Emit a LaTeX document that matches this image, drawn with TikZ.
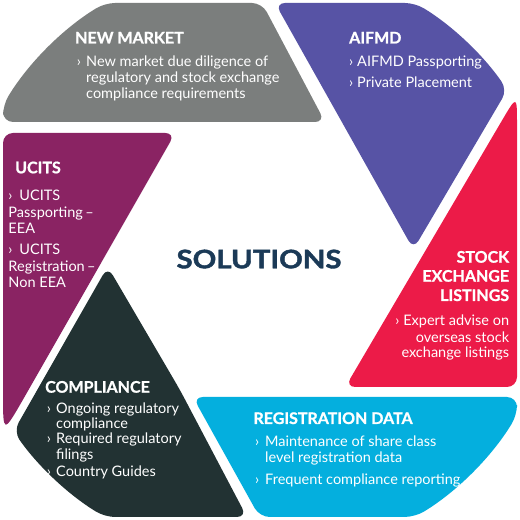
\documentclass[tikz,border=0pt]{standalone}
\usepackage{fontspec}
\setmainfont{Lato}
\usepackage{graphicx}
\definecolor{nmgray}{HTML}{7B7E7D}
\definecolor{afpurple}{HTML}{5753A5}
\definecolor{ucmagenta}{HTML}{8A2363}
\definecolor{sered}{HTML}{EC1B48}
\definecolor{rdblue}{HTML}{04AFDE}
\definecolor{codark}{HTML}{223233}
\definecolor{soltext}{HTML}{1B3A57}
\tikzset{
  head/.style={font=\fontsize{16}{16}\selectfont\bfseries\addfontfeatures{FakeBold=1},text=white,inner sep=0pt,anchor=base west},
  body/.style={font=\fontsize{14.5}{14.5}\selectfont,text=white,inner sep=0pt,anchor=base west},
  bodyr/.style={body,anchor=base east},
  headr/.style={head,anchor=base east}
}
\begin{document}
\begin{tikzpicture}[x=1pt,y=1pt,rounded corners=10]
\fill[white,sharp corners](0,0)rectangle(520,520);
%blades
\fill[nmgray](150,398)--(325,398)--(262,517)--(105,517)arc[start angle=121.1,end angle=148.9,radius=300]--(3,398)--cycle; %new market
\fill[afpurple](340,517)--(415,517)arc[start angle=58.9,end angle=34.5,radius=300]--(413.4,270.6)--(275,517)--cycle; %aifmd
\fill[sered](430,133)--(517,133)--(517,385)..controls(517,425)..(496.7,390.5)--(345.3,133)--cycle; %stock exchange
\fill[rdblue](300,123)--(517,123)--(517,105)arc[start angle=-31.1,end angle=-58.9,radius=300]--(259.6,3)--(192.9,123)--cycle; %registration data
\fill[codark](180,130)--(246.9,3)--(105,3)arc[start angle=238.9,end angle=214.8,radius=300]--(107.7,253.5)--cycle; %compliance
\fill[ucmagenta](80,387)--(175.3,387)--(29.4,131.6)..controls(3,85.5)..(3,137)--(3,387)--cycle; %ucits
%new market
\node[head](nm-t)at(75,476.5){NEW MARKET};
\node[body](nm-b)at(76.7,453.3){›};
\node[body](nm-1)at(86,453.3){New market due diligence of};
\node[body](nm-2)at(86,437.5){regulatory and stock exchange};
\node[body](nm-3)at(86,421.7){compliance requirements};
%aifmd
\node[head](af-t)at(349,476.5){AIFMD};
\node[body](af-b1)at(349,453.3){›};
\node[body](af-1)at(357,453.3){AIFMD Passporting};
\node[body](af-b2)at(349,432.7){›};
\node[body](af-2)at(357,432.7){Private Placement};
%ucits
\node[head](uc-t)at(15,346.7){UCITS};
\node[body](uc-b1)at(8.3,319){›};
\node[body](uc-1)at(19.3,319){UCITS};
\node[body](uc-2)at(8.3,302.7){Passporting\,–};
\node[body](uc-3)at(8.3,286.7){EEA};
\node[body](uc-b2)at(8.3,265){›};
\node[body](uc-4)at(19.3,265){UCITS};
\node[body](uc-5)at(8.3,248.7){Registration\,–};
\node[body](uc-6)at(8.3,232.3){Non EEA};
%centre
\node[font=\fontsize{25.5}{25.5}\selectfont\bfseries\addfontfeatures{FakeBold=1.5},text=soltext,inner sep=0pt,anchor=base](so)at(259,251.7){\scalebox{1.15}[1]{SOLUTIONS}};
%stock exchange listings
\node[headr](se-t1)at(509.3,257.3){STOCK};
\node[headr](se-t2)at(509.3,238.3){EXCHANGE};
\node[headr](se-t3)at(509.3,219){LISTINGS};
\node[bodyr](se-1)at(509.3,194){› Expert advise on};
\node[bodyr](se-2)at(509.3,177.7){overseas stock};
\node[bodyr](se-3)at(509.3,162.3){exchange listings};
%compliance
\node[head](co-t)at(45,127.3){COMPLIANCE};
\node[body](co-b1)at(46.7,106.7){›};
\node[body](co-1)at(56,106.7){Ongoing regulatory};
\node[body](co-2)at(56,91){compliance};
\node[body](co-b2)at(46.7,76){›};
\node[body](co-3)at(56,76){Required regulatory};
\node[body](co-4)at(56,60){filings};
\node[body](co-b3)at(46.7,43.3){›};
\node[body](co-5)at(56,43.3){Country Guides};
%registration data
\node[head](rd-t)at(253.3,96){REGISTRATION DATA};
\node[body](rd-b1)at(255,73.3){›};
\node[body](rd-1)at(265,73.3){Maintenance of share class};
\node[body](rd-2)at(265,57.3){level registration data};
\node[body](rd-b2)at(255,35.7){›};
\node[body](rd-3)at(265,35.7){Frequent compliance reporting};
\end{tikzpicture}
\end{document}
